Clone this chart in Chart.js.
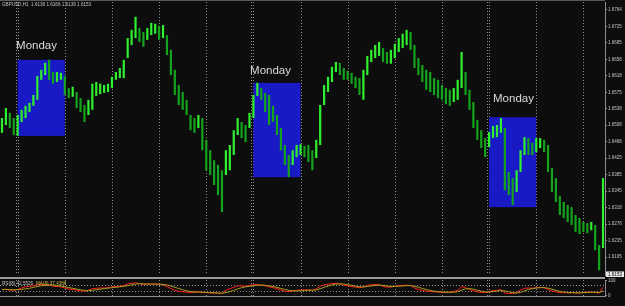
<!DOCTYPE html>
<html><head><meta charset="utf-8">
<script src="https://cdn.jsdelivr.net/npm/chart.js@4.4.0/dist/chart.umd.min.js"></script>
<style>
html,body{margin:0;padding:0;background:#0d0d0d;width:625px;height:306px;overflow:hidden;}
#c1{position:absolute;left:0;top:0;}
#c2{position:absolute;left:0;top:277px;}
</style></head><body>
<canvas id="c1" width="625" height="277"></canvas>
<canvas id="c2" width="625" height="29"></canvas>
<script>
// ---- trading sessions (hourly bars) ----
const sessions = [['20 Nov',15,21],['22 Nov',22,23],['23 Nov',0,23],['24 Nov',0,23],['25 Nov',0,23],['26 Nov',0,23],['27 Nov',0,21],
  ['29 Nov',22,23],['30 Nov',0,23],['1 Dec',0,23],['2 Dec',0,23],['3 Dec',0,23],['4 Dec',0,21],['6 Dec',22,23],['7 Dec',0,23],['8 Dec',0,23],['9 Dec',0,10]];

// ---- price bars (2-hour groups), high / low ----
const barHigh = [1.6515,1.6538,1.6527,1.6515,1.6522,1.6534,1.6543,1.6550,1.6568,1.6612,
1.6626,1.6642,1.6649,1.6621,1.6621,1.6619,1.6612,1.6584,1.6587,1.6575,
1.6561,1.6545,1.6557,1.6594,1.6598,1.6594,1.6591,1.6594,1.6610,1.6621,
1.6630,1.6649,1.6699,1.6718,1.6748,1.6722,1.6713,1.6722,1.6734,1.6732,
1.6727,1.6729,1.6706,1.6672,1.6626,1.6591,1.6575,1.6557,1.6522,1.6515,
1.6522,1.6515,1.6465,1.6441,1.6418,1.6407,1.6395,1.6441,1.6453,1.6487,
1.6515,1.6506,1.6499,1.6527,1.6568,1.6596,1.6584,1.6573,1.6568,1.6543,
1.6522,1.6492,1.6453,1.6430,1.6441,1.6453,1.6455,1.6451,1.6453,1.6441,
1.6465,1.6545,1.6591,1.6610,1.6633,1.6644,1.6642,1.6630,1.6623,1.6619,
1.6610,1.6607,1.6626,1.6658,1.6672,1.6683,1.6690,1.6676,1.6667,1.6672,
1.6686,1.6699,1.6709,1.6718,1.6713,1.6683,1.6653,1.6637,1.6626,1.6621,
1.6607,1.6603,1.6591,1.6584,1.6580,1.6584,1.6603,1.6667,1.6621,1.6580,
1.6552,1.6511,1.6487,1.6469,1.6483,1.6497,1.6499,1.6515,1.6492,1.6391,
1.6377,1.6395,1.6441,1.6471,1.6469,1.6458,1.6469,1.6469,1.6465,1.6453,
1.6400,1.6377,1.6336,1.6322,1.6315,1.6310,1.6292,1.6285,1.6276,1.6273,
1.6276,1.6269,1.6223,1.6377];
const barLow = [1.6481,1.6499,1.6492,1.6476,1.6474,1.6506,1.6515,1.6529,1.6543,1.6557,
1.6603,1.6614,1.6603,1.6594,1.6598,1.6603,1.6568,1.6561,1.6564,1.6538,
1.6529,1.6506,1.6522,1.6534,1.6566,1.6570,1.6573,1.6575,1.6584,1.6603,
1.6607,1.6607,1.6653,1.6683,1.6699,1.6690,1.6679,1.6695,1.6706,1.6709,
1.6695,1.6699,1.6660,1.6614,1.6568,1.6545,1.6534,1.6522,1.6487,1.6481,
1.6492,1.6441,1.6395,1.6384,1.6361,1.6338,1.6299,1.6384,1.6395,1.6430,
1.6476,1.6469,1.6460,1.6492,1.6515,1.6566,1.6557,1.6529,1.6499,1.6506,
1.6476,1.6441,1.6407,1.6379,1.6407,1.6425,1.6430,1.6425,1.6414,1.6395,
1.6423,1.6453,1.6545,1.6575,1.6598,1.6621,1.6614,1.6603,1.6603,1.6594,
1.6584,1.6568,1.6557,1.6614,1.6644,1.6653,1.6658,1.6644,1.6640,1.6640,
1.6653,1.6667,1.6676,1.6683,1.6672,1.6630,1.6614,1.6598,1.6580,1.6575,
1.6568,1.6561,1.6557,1.6547,1.6543,1.6552,1.6557,1.6584,1.6568,1.6534,
1.6492,1.6465,1.6446,1.6425,1.6448,1.6469,1.6471,1.6481,1.6349,1.6338,
1.6315,1.6345,1.6391,1.6430,1.6430,1.6430,1.6437,1.6446,1.6437,1.6391,
1.6345,1.6322,1.6292,1.6285,1.6276,1.6269,1.6253,1.6248,1.6253,1.6250,
1.6257,1.6211,1.6165,1.6216];

// ---- RSI pane ----
const rsiMain = [38,42,36,34,40,50,58,62,66,72,74,76,72,62,60,58,50,42,40,34,30,28,34,46,48,50,50,52,56,60,62,
66,78,82,86,80,74,76,78,77,74,72,60,46,34,28,24,22,18,20,24,20,18,16,15,14,12,35,45,55,65,64,62,68,
72,74,70,64,58,52,44,36,28,24,30,34,36,38,36,34,44,62,72,76,80,82,78,70,64,60,56,52,58,68,72,74,
72,62,56,56,62,66,68,70,66,50,40,34,28,26,24,22,20,18,22,26,34,60,52,40,30,24,20,18,26,32,34,38,
16,12,12,18,36,48,50,48,52,54,52,40,30,24,18,18,16,18,16,16,20,22,22,20,14,55];
const rsiSignal = [40,40,39,38,38,40,44,48,54,60,65,69,71,70,67,63,58,53,48,43,38,34,32,34,38,42,46,49,52,55,58,
61,66,72,77,80,79,78,77,77,76,75,71,64,55,46,38,31,26,23,22,21,20,18,17,15,14,18,25,34,44,52,58,62,
66,69,70,69,65,60,54,47,40,34,31,30,31,33,35,35,37,45,54,63,71,77,79,77,73,68,63,58,57,60,64,68,
70,68,64,60,60,62,64,66,67,62,55,47,40,33,28,25,23,21,20,21,25,36,44,46,42,35,28,23,22,25,29,33,
30,24,18,15,20,30,40,46,50,52,53,49,42,34,27,22,19,18,17,17,18,19,20,21,19,28];
const rsiLevels = [30,70];

// ---- tick labels ----
const yTickLabels = ['1.6764','1.6725','1.6685','1.6658','1.6618','1.6575','1.6538','1.6508','1.6468','1.6425','1.6385','1.6345','1.6318','1.6278','1.6235','1.6195'];
const xTickLabels = ['20 Nov 2009','23 Nov 07:00','23 Nov 23:00','24 Nov 15:00','25 Nov 07:00','25 Nov 23:00','26 Nov 15:00','27 Nov 07:00','29 Nov 23:00','30 Nov 15:00',
  '1 Dec 07:00','1 Dec 23:00','2 Dec 15:00','3 Dec 07:00','3 Dec 23:00','4 Dec 15:00','7 Dec 07:00','7 Dec 23:00','8 Dec 15:00','9 Dec 07:00'];

// ---- annotations ----
const mondayDays = ['23 Nov','30 Nov','7 Dec'];
const mondayHigh = [1.6649,1.6596,1.6517];
const mondayLow = [1.6474,1.6379,1.6310];
const mondayText = 'Monday';
const mondayTextHour = [8.2,127.3,251];
const mondayTextPrice = [1.6694,1.6637,1.6573];
const titleText = 'GBPUSD,H1  1.6139 1.6166 1.6139 1.6153';
const lastPrice = 1.6153;
const rsiText1 = 'RSI(8) 42.5526';
const rsiText2 = 'MA(8) 37.4386';

// ---- derived structures ----
const hourly = [];
const sessionStart = {};
sessions.forEach(([d,a,b])=>{ sessionStart[d] = hourly.length; for(let h=a;h<=b;h++) hourly.push(d+' '+String(h).padStart(2,'0')+':00'); });
const cats = [];
for (let i=0;i<hourly.length;i+=2) cats.push(hourly[i]);
const sepHours = sessions.slice(1).map(([d,a])=> sessionStart[d] + (a===22?1:0));
const mondayStart = mondayDays.map(d=>sessionStart[d]);
const mondayEnd = mondayDays.map(d=>{ const i = sessions.findIndex(s=>s[0]===d); return sessionStart[sessions[i+1][0]]; });
const hx = (xs,h)=> xs.getPixelForValue(h/2 - 0.5);

const FONT = '"Liberation Sans", Arial, sans-serif';
const BG = '#0d0d0d', GRAY = '#8e8e8e', TXT = '#c4c4c4';
const UP = '#2ff02f', DOWN = '#14a31c';
const barColors = barHigh.map((h,i)=>{ if(i===0) return UP; const m=(h+barLow[i])/2, pm=(barHigh[i-1]+barLow[i-1])/2; return m>=pm?UP:DOWN; });
const yTop = 1.6764, yBottom = 1.6195;
const yTickValues = yTickLabels.map((_,i)=> yTop - i*(yTop-yBottom)/(yTickLabels.length-1));

function drawSeps(ctx, xs, top, bottom){
  ctx.save(); ctx.strokeStyle = GRAY; ctx.lineWidth = 1; ctx.setLineDash([1,2]);
  sepHours.forEach(h=>{ const px = Math.round(hx(xs,h))+0.5; ctx.beginPath(); ctx.moveTo(px,top); ctx.lineTo(px,bottom); ctx.stroke(); });
  ctx.restore();
}

const mainPlugin = {
  id:'mainDeco',
  beforeDraw(chart){ const c=chart.ctx; c.save(); c.fillStyle=BG; c.fillRect(0,0,chart.width,chart.height); c.restore(); },
  beforeDatasetsDraw(chart){
    const {ctx, chartArea:a, scales:{x,y}} = chart;
    drawSeps(ctx, x, a.top, a.bottom);
    ctx.save(); ctx.fillStyle = '#1919c6';
    mondayStart.forEach((h,i)=>{
      const x0 = hx(x,h), x1 = hx(x,mondayEnd[i]);
      const y0 = y.getPixelForValue(mondayHigh[i]), y1 = y.getPixelForValue(mondayLow[i]);
      ctx.fillRect(x0,y0,x1-x0,y1-y0);
    });
    ctx.restore();
  },
  afterDraw(chart){
    const {ctx, chartArea:a, scales:{x,y}} = chart;
    ctx.save();
    ctx.fillStyle = '#dadada'; ctx.font = '11.5px '+FONT; ctx.textBaseline='top'; ctx.textAlign='left';
    mondayTextHour.forEach((h,i)=> ctx.fillText(mondayText, hx(x,h), y.getPixelForValue(mondayTextPrice[i])));
    ctx.fillStyle = TXT; ctx.font = '4.6px '+FONT; ctx.textBaseline='middle';
    ctx.fillText(titleText, 2, 5);
    ctx.fillStyle = '#5a5a5a'; ctx.fillRect(0,0,a.right,1);
    const py = y.getPixelForValue(lastPrice);
    ctx.fillStyle = '#e6e6e6'; ctx.fillRect(a.right+1, py-4, 18, 7);
    ctx.fillStyle = '#000'; ctx.font = '4.5px '+FONT; ctx.textAlign='center';
    ctx.fillText(lastPrice.toFixed(4), a.right+10, py-0.5);
    ctx.restore();
  }
};

new Chart(document.getElementById('c1'), {
  type:'bar',
  data:{ labels:cats, datasets:[{ data: barLow.map((l,i)=>[l,barHigh[i]]), backgroundColor:barColors, borderWidth:0, borderSkipped:false, barPercentage:0.56, categoryPercentage:1 }]},
  options:{
    responsive:false, animation:false, events:[],
    layout:{ padding:{ top:2, bottom:2, left:0, right:0 } },
    plugins:{ legend:{display:false}, tooltip:{enabled:false} },
    scales:{
      x:{ display:false, offset:true },
      y:{ position:'right', min:1.6154, max:1.6782,
        afterBuildTicks: s=>{ s.ticks = yTickValues.map(v=>({value:v})); },
        afterFit: s=>{ s.width = 20; s.paddingTop = 0; s.paddingBottom = 0; },
        grid:{ drawOnChartArea:false, color:GRAY, tickLength:2 },
        border:{ color:GRAY },
        ticks:{ color:TXT, padding:1, font:{ family:FONT, size:4.5 }, callback:(v,i)=> yTickLabels[i] }
      }
    }
  },
  plugins:[mainPlugin]
});

const rsiPlugin = {
  id:'rsiDeco',
  beforeDraw(chart){ const c=chart.ctx; c.save(); c.fillStyle=BG; c.fillRect(0,0,chart.width,chart.height); c.restore(); },
  beforeDatasetsDraw(chart){
    const {ctx, chartArea:a, scales:{x,y}} = chart;
    drawSeps(ctx, x, a.top, a.bottom+2);
    ctx.save(); ctx.strokeStyle = GRAY; ctx.setLineDash([1,2]); ctx.lineWidth=1;
    rsiLevels.forEach(l=>{ const py = Math.round(y.getPixelForValue(l))+0.5; ctx.beginPath(); ctx.moveTo(a.left,py); ctx.lineTo(a.right,py); ctx.stroke(); });
    ctx.restore();
  },
  afterDraw(chart){
    const {ctx, chartArea:a} = chart;
    ctx.save();
    ctx.fillStyle = '#9a9a9a'; ctx.fillRect(0,0,a.right,2);
    ctx.font = '4.6px '+FONT; ctx.textBaseline='middle';
    ctx.fillStyle = TXT; ctx.fillText(rsiText1, 2, 6.5);
    ctx.fillStyle = '#c8b84a'; ctx.fillText(rsiText2, 36, 6.5);
    ctx.restore();
  }
};

new Chart(document.getElementById('c2'), {
  type:'line',
  data:{ labels:cats, datasets:[
    { data:rsiSignal, borderColor:'#a89e1e', borderWidth:1, pointRadius:0, tension:0 },
    { data:rsiMain, borderColor:'#ff1f1f', borderWidth:1, pointRadius:0, tension:0 }
  ]},
  options:{
    responsive:false, animation:false, events:[],
    layout:{ padding:{ top:3, bottom:0, left:0, right:0 } },
    plugins:{ legend:{display:false}, tooltip:{enabled:false} },
    scales:{
      x:{ offset:true, grid:{display:false}, border:{display:true, color:GRAY},
        afterBuildTicks: s=>{ s.ticks = xTickLabels.map((_,i)=>({value:i*8})); },
        afterFit: s=>{ s.height = 10; s.paddingLeft = 0; s.paddingRight = 0; },
        ticks:{ autoSkip:false, maxRotation:0, minRotation:0, align:'start', labelOffset:-2, padding:2, color:TXT, font:{family:FONT, size:4.6}, callback:(v,i)=> xTickLabels[i] }
      },
      y:{ position:'right', min:-5, max:105,
        afterBuildTicks: s=>{ s.ticks = [{value:100},{value:0}]; },
        afterFit: s=>{ s.width = 20; s.paddingTop = 0; s.paddingBottom = 0; },
        grid:{ drawOnChartArea:false, color:GRAY, tickLength:2 },
        border:{ color:GRAY },
        ticks:{ color:TXT, padding:1, font:{family:FONT, size:4.5}, callback:v=> String(v) }
      }
    }
  },
  plugins:[rsiPlugin]
});
</script></body></html>
